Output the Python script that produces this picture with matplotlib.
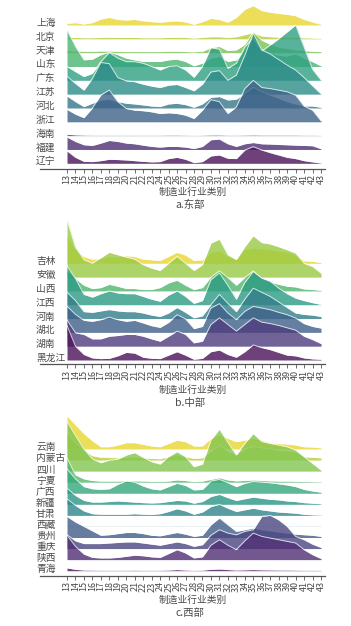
import numpy as np
import matplotlib
matplotlib.use("Agg")
import matplotlib.pyplot as plt

plt.rcParams["font.family"] = ["Noto Sans CJK SC", "DejaVu Sans"]

W, H = 351, 626

CATEGORIES = ["13", "14", "15", "16", "17", "18", "19", "20", "21", "22", "23",
              "24", "25", "26", "27", "28", "29", "30", "31", "32", "33", "34",
              "35", "36", "37", "38", "39", "40", "41", "42", "43"]

# a. 东部  (heights in units of row spacing)
EAST_NAMES = ["上海", "北京", "天津", "山东", "广东", "江苏", "河北", "浙江", "海南", "福建", "辽宁"]
SHANGHAI = [0.12, 0.17, 0.07, 0.17, 0.43, 0.55, 0.40, 0.36, 0.40, 0.30, 0.24, 0.20, 0.26, 0.30, 0.22, 0.05,
            0.24, 0.48, 0.40, 0.20, 0.55, 1.13, 1.40, 1.04, 0.92, 0.84, 0.77, 0.67, 0.40, 0.22, 0.05]
BEIJING = [0.10, 0.10, 0.08, 0.08, 0.10, 0.12, 0.10, 0.10, 0.10, 0.08, 0.08, 0.08, 0.10, 0.12, 0.10, 0.06,
           0.10, 0.15, 0.15, 0.10, 0.15, 0.30, 0.45, 0.20, 0.15, 0.12, 0.12, 0.10, 0.08, 0.06, 0.04]
TIANJIN = [0.15, 0.12, 0.10, 0.10, 0.12, 0.12, 0.10, 0.08, 0.08, 0.08, 0.08, 0.08, 0.10, 0.10, 0.08, 0.06,
           0.10, 0.35, 0.45, 0.15, 0.20, 0.60, 1.50, 0.90, 0.60, 0.40, 0.30, 0.20, 0.15, 0.10, 0.08]
SHANDONG = [2.65, 1.45, 0.48, 0.53, 0.85, 1.04, 0.85, 0.60, 0.48, 0.36, 0.36, 0.36, 0.48, 0.53, 0.36, 0.05,
            0.24, 0.60, 0.72, 0.36, 0.48, 1.20, 1.93, 1.20, 0.96, 0.80, 0.75, 0.90, 0.60, 0.35, 0.05]
GUANGDONG = [1.00, 0.63, 0.27, 0.50, 1.35, 2.00, 1.60, 1.35, 1.35, 1.23, 1.00, 0.75, 1.00, 1.05, 0.75, 0.22,
             1.00, 2.35, 2.25, 0.87, 1.23, 2.40, 3.10, 2.10, 2.55, 3.00, 3.50, 4.00, 2.40, 0.80, 0.02]
JIANGSU = [1.30, 0.77, 0.29, 1.13, 2.29, 2.20, 1.20, 0.96, 0.90, 0.72, 0.58, 0.48, 0.65, 0.70, 0.48, 0.24,
           0.72, 1.60, 1.70, 1.00, 1.37, 2.80, 4.40, 3.20, 2.90, 2.50, 2.10, 1.74, 1.20, 0.60, 0.02]
HEBEI = [0.87, 0.46, 0.10, 0.34, 0.58, 0.63, 0.46, 0.34, 0.29, 0.22, 0.14, 0.10, 0.29, 0.34, 0.24, 0.05,
         0.29, 0.77, 0.82, 0.58, 0.63, 1.06, 1.50, 1.18, 0.94, 0.70, 0.46, 0.29, 0.14, 0.14, 0.05]
ZHEJIANG = [0.90, 0.55, 0.30, 1.00, 1.94, 2.30, 1.45, 0.96, 0.84, 0.80, 0.72, 0.60, 0.65, 0.60, 0.48, 0.24,
            0.84, 1.60, 1.45, 0.60, 1.08, 2.40, 3.00, 2.48, 2.40, 2.29, 2.17, 1.93, 1.13, 0.84, 0.07]
HAINAN = [0.10, 0.06, 0.04, 0.03, 0.03, 0.03, 0.03, 0.03, 0.03, 0.03, 0.03, 0.03, 0.04, 0.04, 0.03, 0.02,
          0.03, 0.05, 0.05, 0.03, 0.03, 0.04, 0.05, 0.04, 0.04, 0.04, 0.04, 0.04, 0.03, 0.03, 0.02]
FUJIAN = [0.90, 0.58, 0.34, 0.29, 0.46, 0.65, 0.58, 0.46, 0.41, 0.31, 0.22, 0.17, 0.22, 0.22, 0.17, 0.07,
          0.22, 0.70, 0.75, 0.41, 0.22, 0.41, 0.50, 0.41, 0.39, 0.36, 0.34, 0.31, 0.29, 0.27, 0.05]
LIAONING = [0.90, 0.43, 0.14, 0.12, 0.19, 0.29, 0.27, 0.24, 0.19, 0.14, 0.10, 0.12, 0.34, 0.43, 0.29, 0.05,
            0.12, 0.53, 0.60, 0.36, 0.34, 0.96, 1.20, 0.96, 0.77, 0.60, 0.43, 0.34, 0.19, 0.10, 0.02]

# b. 中部
CENTRAL_NAMES = ["吉林", "安徽", "山西", "江西", "河南", "湖北", "湖南", "黑龙江"]
JILIN = [2.00, 1.00, 0.48, 0.30, 0.35, 0.50, 0.45, 0.55, 0.50, 0.30, 0.25, 0.20, 0.50, 0.80, 0.60, 0.20,
         0.25, 0.80, 0.90, 0.50, 0.30, 1.00, 1.10, 1.05, 1.00, 0.90, 0.80, 0.60, 0.18, 0.15, 0.05]
ANHUI = [4.15, 2.17, 1.26, 1.00, 1.40, 1.80, 1.62, 1.45, 1.30, 0.90, 0.65, 0.48, 1.00, 1.50, 1.00, 0.48,
         0.90, 2.46, 2.75, 1.62, 1.26, 2.20, 3.00, 2.50, 2.40, 2.20, 1.98, 1.74, 1.00, 0.77, 0.29]
SHANXI = [1.50, 0.90, 0.41, 0.17, 0.24, 0.48, 0.34, 0.17, 0.17, 0.10, 0.10, 0.24, 0.58, 0.77, 0.41, 0.10,
          0.24, 1.00, 1.45, 0.97, 0.41, 0.97, 1.45, 0.90, 0.65, 0.48, 0.34, 0.29, 0.14, 0.10, 0.05]
JIANGXI = [2.80, 1.90, 0.75, 0.55, 0.80, 1.00, 0.85, 0.80, 0.80, 0.60, 0.40, 0.25, 0.70, 1.00, 0.60, 0.10,
           0.30, 1.80, 2.30, 1.40, 0.40, 1.60, 2.40, 1.93, 1.70, 1.20, 0.80, 0.48, 0.30, 0.15, 0.02]
HENAN = [1.90, 1.30, 0.50, 0.45, 0.55, 0.65, 0.55, 0.50, 0.50, 0.40, 0.25, 0.15, 0.40, 0.80, 0.45, 0.05,
         0.20, 1.00, 1.75, 1.10, 0.50, 1.40, 2.20, 1.90, 1.60, 1.20, 0.80, 0.40, 0.30, 0.25, 0.15]
HUBEI = [1.90, 1.30, 0.87, 0.80, 0.92, 1.10, 0.92, 0.80, 0.87, 0.68, 0.48, 0.36, 0.72, 1.28, 0.97, 0.27,
         0.43, 1.76, 2.08, 1.40, 0.92, 1.52, 1.88, 1.76, 1.64, 1.45, 1.28, 1.04, 0.63, 0.43, 0.31]
HUNAN = [1.90, 0.97, 0.85, 0.53, 0.53, 0.72, 0.77, 0.85, 0.85, 0.72, 0.53, 0.36, 0.72, 1.09, 0.85, 0.24,
         0.36, 1.57, 2.05, 1.57, 1.09, 1.57, 2.05, 1.74, 1.64, 1.50, 1.33, 1.16, 0.72, 0.48, 0.19]
HEILONGJIANG = [2.50, 1.00, 0.40, 0.15, 0.10, 0.12, 0.30, 0.55, 0.50, 0.20, 0.12, 0.10, 0.35, 0.60, 0.35, 0.05,
                0.12, 0.60, 0.72, 0.40, 0.20, 0.60, 1.09, 0.90, 0.75, 0.55, 0.35, 0.30, 0.15, 0.08, 0.05]

# c. 西部
WEST_NAMES = ["云南", "内蒙古", "四川", "宁夏", "广西", "新疆", "甘肃", "西藏", "贵州", "重庆", "陕西", "青海"]
YUNNAN = [3.00, 2.20, 1.40, 0.75, 0.20, 0.20, 0.35, 0.57, 0.57, 0.42, 0.27, 0.20, 0.50, 0.80, 0.66, 0.27,
          0.27, 0.97, 1.27, 0.97, 0.66, 0.80, 0.97, 0.80, 0.57, 0.50, 0.45, 0.36, 0.20, 0.18, 0.10]
NEIMENGGU = [2.50, 1.60, 0.90, 0.40, 0.25, 0.25, 0.20, 0.25, 0.30, 0.20, 0.15, 0.12, 0.30, 0.50, 0.30, 0.15,
             0.20, 0.80, 1.30, 0.80, 0.50, 1.00, 1.20, 1.10, 1.00, 0.90, 0.85, 0.75, 0.30, 0.25, 0.20]
SICHUAN = [4.50, 3.20, 2.00, 1.10, 0.76, 1.00, 1.06, 1.45, 1.67, 1.24, 0.85, 0.64, 1.30, 1.76, 1.30, 0.40,
           0.64, 2.80, 3.80, 2.60, 1.45, 2.50, 3.40, 2.67, 2.50, 2.36, 2.20, 1.90, 1.30, 0.70, 0.10]
NINGXIA = [2.20, 0.66, 0.30, 0.15, 0.10, 0.10, 0.10, 0.12, 0.12, 0.10, 0.08, 0.08, 0.10, 0.20, 0.15, 0.05,
           0.10, 0.25, 0.40, 0.20, 0.12, 0.15, 0.20, 0.15, 0.12, 0.10, 0.10, 0.08, 0.06, 0.05, 0.04]
GUANGXI = [2.20, 1.30, 0.60, 0.40, 0.35, 0.40, 0.80, 1.10, 1.00, 0.65, 0.40, 0.30, 0.60, 0.90, 0.70, 0.30,
           0.35, 1.10, 1.25, 0.95, 0.60, 0.90, 1.06, 1.00, 0.95, 0.85, 0.75, 0.60, 0.35, 0.20, 0.10]
XINJIANG = [1.45, 0.80, 0.35, 0.20, 0.20, 0.25, 0.30, 0.25, 0.20, 0.15, 0.12, 0.15, 0.25, 0.35, 0.30, 0.10,
            0.25, 0.70, 0.90, 0.60, 0.35, 0.50, 0.65, 0.55, 0.45, 0.40, 0.30, 0.25, 0.15, 0.10, 0.05]
GANSU = [1.50, 0.90, 0.40, 0.15, 0.10, 0.10, 0.10, 0.10, 0.15, 0.10, 0.08, 0.15, 0.35, 0.60, 0.40, 0.10,
         0.30, 0.80, 1.00, 0.65, 0.35, 0.50, 0.65, 0.50, 0.40, 0.30, 0.25, 0.20, 0.10, 0.05, 0.03]
XIZANG = [0.04, 0.03, 0.03, 0.02, 0.02, 0.02, 0.02, 0.02, 0.02, 0.02, 0.02, 0.02, 0.02, 0.03, 0.02, 0.02,
          0.02, 0.03, 0.03, 0.02, 0.02, 0.02, 0.03, 0.02, 0.02, 0.02, 0.02, 0.02, 0.02, 0.02, 0.02]
GUIZHOU = [1.90, 1.40, 1.00, 0.60, 0.20, 0.25, 0.35, 0.45, 0.45, 0.35, 0.20, 0.15, 0.30, 0.45, 0.30, 0.10,
           0.20, 1.15, 1.76, 1.15, 0.55, 0.70, 0.85, 0.70, 0.60, 0.50, 0.40, 0.30, 0.25, 0.20, 0.10]
CHONGQING = [1.25, 0.70, 0.45, 0.45, 0.45, 0.50, 0.55, 0.60, 0.60, 0.50, 0.40, 0.30, 0.45, 0.60, 0.45, 0.20,
             0.35, 1.20, 1.70, 1.40, 1.24, 1.55, 1.70, 2.90, 3.00, 2.60, 2.00, 1.10, 0.80, 0.40, 0.10]
SHAANXI = [2.20, 1.20, 0.50, 0.20, 0.15, 0.15, 0.20, 0.30, 0.40, 0.35, 0.25, 0.20, 0.55, 0.90, 0.60, 0.15,
           0.25, 1.30, 1.80, 1.30, 0.90, 1.70, 2.40, 2.10, 1.95, 1.80, 1.65, 1.50, 0.90, 0.45, 0.10]
QINGHAI = [0.25, 0.12, 0.06, 0.05, 0.04, 0.04, 0.04, 0.04, 0.05, 0.04, 0.04, 0.04, 0.06, 0.10, 0.06, 0.03,
           0.05, 0.12, 0.15, 0.10, 0.06, 0.08, 0.10, 0.08, 0.07, 0.06, 0.06, 0.05, 0.04, 0.04, 0.03]

XLABEL = "制造业行业类别"
TEXT_COLOR = "#4a4a4a"


def muted_viridis(n):
    # viridis top-to-bottom, pulled slightly toward grey like the printed figure
    cols = plt.cm.viridis(np.linspace(1, 0, n))[:, :3]
    return 0.85 * cols + 0.15 * 0.45


def draw_ridges(fig, names, rows, top_base, bot_base, axis_y, ax_top, xlabel_y, title, title_y):
    n = len(names)
    step = (bot_base - top_base) / (n - 1)
    ax = fig.add_axes([40 / W, 1 - axis_y / H, 285 / W, (axis_y - ax_top) / H])
    x = np.array([int(c) for c in CATEGORIES])
    colors = muted_viridis(n)

    for i, (name, vals) in enumerate(zip(names, rows)):
        base = n - 1 - i
        top = base + np.array(vals)
        ax.fill_between(x, base, top, color=colors[i], alpha=0.8, lw=0, zorder=2 * i + 1)
        ax.plot(x, top, color="white", lw=0.7, alpha=0.75, zorder=2 * i + 2)
        ax.text(9.34, base + 0.15, name, ha="left", va="center", fontsize=7,
                fontweight="light", color=TEXT_COLOR, zorder=100)

    ax.set_xlim(9.81, 43.47)
    ax.set_ylim(-(axis_y - bot_base) / step, (bot_base - ax_top) / step)
    for side in ["top", "left", "right"]:
        ax.spines[side].set_visible(False)
    ax.spines["bottom"].set_color("#555555")
    ax.spines["bottom"].set_linewidth(0.9)
    ax.set_yticks([])
    ax.set_xticks(x)
    ax.set_xticklabels(CATEGORIES, rotation=90, fontsize=6.5, color=TEXT_COLOR, fontweight="light")
    ax.tick_params(axis="x", length=3, width=0.6, color="#555555", pad=1)
    ax.patch.set_visible(False)

    fig.text(193 / W, 1 - xlabel_y / H, XLABEL, ha="center", va="center", fontsize=7,
             fontweight="light", color=TEXT_COLOR)
    fig.text(190 / W, 1 - title_y / H, title, ha="center", va="center", fontsize=7.5,
             fontweight="light", color=TEXT_COLOR)
    return ax


fig = plt.figure(figsize=(W / 100, H / 100), dpi=100)

draw_ridges(fig, EAST_NAMES,
            [SHANGHAI, BEIJING, TIANJIN, SHANDONG, GUANGDONG, JIANGSU, HEBEI, ZHEJIANG, HAINAN, FUJIAN, LIAONING],
            top_base=25, bot_base=163.3, axis_y=168.5, ax_top=5,
            xlabel_y=192, title="a.东部", title_y=205)
draw_ridges(fig, CENTRAL_NAMES,
            [JILIN, ANHUI, SHANXI, JIANGXI, HENAN, HUBEI, HUNAN, HEILONGJIANG],
            top_base=263.3, bot_base=360, axis_y=364.3, ax_top=212,
            xlabel_y=390, title="b.中部", title_y=403)
draw_ridges(fig, WEST_NAMES,
            [YUNNAN, NEIMENGGU, SICHUAN, NINGXIA, GUANGXI, XINJIANG, GANSU, XIZANG, GUIZHOU, CHONGQING, SHAANXI, QINGHAI],
            top_base=449, bot_base=570.7, axis_y=575.7, ax_top=412,
            xlabel_y=600, title="c.西部", title_y=613)

fig.savefig("out.png", dpi=100)
plt.close(fig)
